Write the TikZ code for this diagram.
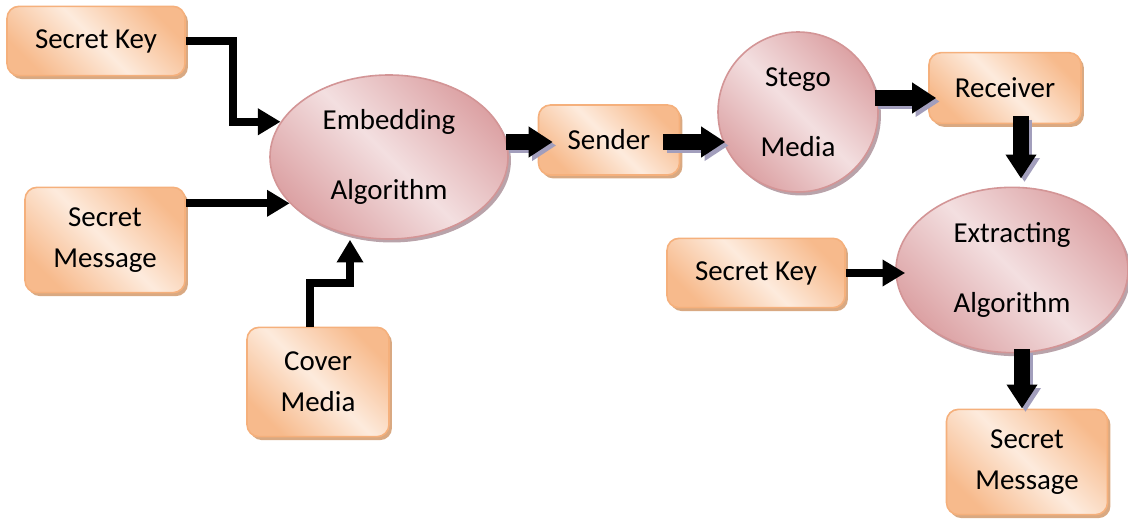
\documentclass[tikz,border=0pt]{standalone}
\usepackage{fontspec}
\setmainfont{Carlito}
\usetikzlibrary{arrows.meta,shadows,calc,shapes.geometric}
\definecolor{boxedge}{HTML}{F5B07C}
\definecolor{boxdark}{HTML}{F7BA8C}
\definecolor{boxlight}{HTML}{FDEBDD}
\definecolor{boxshadow}{HTML}{D9A982}
\definecolor{ovedge}{HTML}{D39596}
\definecolor{ovdark}{HTML}{DCA2A4}
\definecolor{ovlight}{HTML}{F3DFE0}
\definecolor{ovshadow}{HTML}{B9A3AA}
\definecolor{arrshadow}{HTML}{A29EBC}
\tikzset{
  txt/.style={font=\fontsize{21.7}{30.8}\selectfont, align=center, text=black},
  boxnode/.style={txt, draw=boxedge, line width=1.2pt, rounded corners=9pt,
    left color=boxdark, right color=boxdark, middle color=boxlight, shading angle=135,
    drop shadow={shadow xshift=2.2pt, shadow yshift=-2.6pt, fill=boxshadow, opacity=1},
    inner sep=0pt},
  ovnode/.style={txt, ellipse, draw=ovedge, line width=1.2pt,
    left color=ovdark, right color=ovdark, middle color=ovlight, shading angle=135,
    drop shadow={shadow xshift=2.2pt, shadow yshift=-2.6pt, fill=ovshadow, opacity=1},
    inner sep=0pt},
  thin/.style={line width=6pt, -{Triangle[length=17pt,width=19pt]}},
  big/.style={line width=11.5pt, -{Triangle[length=18pt,width=22pt]}},
  bigsh/.style={big, draw=arrshadow, transform canvas={shift={(2.6pt,-2.6pt)}}},
}
\newcommand\bigarrow[2]{\draw[bigsh] #1 -- #2; \draw[big] #1 -- #2;}
\begin{document}
\begin{tikzpicture}[x=0.75pt,y=-0.75pt]
\useasboundingbox (0,0) rectangle (1128,521);
% nodes
\node[boxnode, minimum width=133.5pt, minimum height=52pt] (sk1) at (96,41) {Secret Key};
\node[boxnode, minimum width=120pt, minimum height=79pt] (sm1) at (105,240) {Secret\\Message};
\node[boxnode, minimum width=106.5pt, minimum height=82pt] (cov) at (318,382) {Cover\\Media};
\node[ovnode, minimum width=178.5pt, minimum height=123pt] (emb) at (389,157) {Embedding\\[22pt]Algorithm};
\node[boxnode, minimum width=105.75pt, minimum height=52.5pt] (snd) at (609,140) {Sender};
\node[ovnode, circle, minimum size=120pt] (stg) at (798,112) {Stego\\[22pt]Media};
\node[boxnode, minimum width=114pt, minimum height=53pt] (rcv) at (1005,88) {Receiver};
\node[ovnode, minimum width=174pt, minimum height=124pt] (ext) at (1012,270) {Extracting\\[22pt]Algorithm};
\node[boxnode, minimum width=133.5pt, minimum height=52pt] (sk2) at (756,273) {Secret Key};
\node[boxnode, minimum width=120.75pt, minimum height=79pt] (sm2) at (1027,462) {Secret\\Message};
% bend points
\coordinate (b1) at (233,0);
\coordinate (b2) at (310,283);
\coordinate (b3) at (350,283);
% thin arrows
\draw[thin] (sk1.east) -| (b1 |- emb.162) -- (emb.162);
\draw[thin] (emb.205 -| sm1.east) -- (emb.205);
\draw[thin] (cov.north -| b2) -- (b2) -- (b3) -- (b3 |- emb.south);
\draw[thin] (sk2.east) -- ($(sk2.east -| ext.west)+(10,0)$);
% thick arrows
\bigarrow{($(snd.west -| emb.east)+(-3,2)$)}{($(snd.west)+(15,2)$)}
\bigarrow{($(snd.east)+(-17,2)$)}{($(stg.west |- snd.east)+(8,2)$)}
\bigarrow{($(rcv.west -| stg.east)+(-4,10)$)}{($(rcv.west)+(8,10)$)}
\bigarrow{($(rcv.south)+(16,-8)$)}{($(ext.north)+(9,-8)$)}
\bigarrow{($(ext.south)+(10,-4)$)}{($(sm2.north)+(-5,0)$)}
\end{tikzpicture}
\end{document}
